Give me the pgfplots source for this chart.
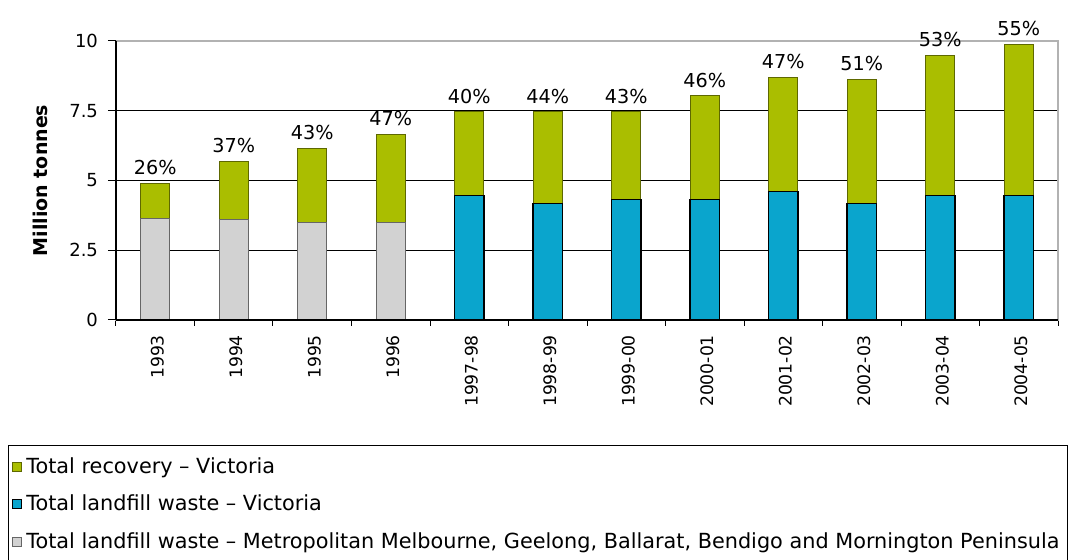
\documentclass[border=0pt]{standalone}
\usepackage{fontspec}
\setmainfont{DejaVu Sans}
\usepackage{pgfplots}
\pgfplotsset{compat=1.18}
\definecolor{recgreen}{RGB}{170,190,0}
\definecolor{lfblue}{RGB}{10,165,205}
\definecolor{lfgray}{RGB}{210,210,210}
\pgfplotsset{sqlegend/.style={legend image code/.code={\draw[##1,line width=0.5pt] (0pt,-2.3pt) rectangle (4.6pt,2.3pt);}}}
\begin{document}
\begin{tikzpicture}
\begin{axis}[
  scale only axis, width=471pt, height=139.5pt,
  ybar, clip=false,
  xmin=-0.5, xmax=11.5, ymin=0, ymax=10,
  ytick={0,2.5,5,7.5}, yticklabels={0,2.5,5,7.5},
  extra y ticks={10}, extra y tick labels={10}, extra y tick style={grid=none},
  ymajorgrids, grid style={black, line width=0.5pt},
  xtick={0,...,11},
  xticklabels={1993,1994,1995,1996,1997-98,1998-99,1999-00,2000-01,2001-02,2002-03,2003-04,2004-05},
  major x tick style={draw=none},
  minor xtick={-0.5,0.5,...,11.5},
  tick pos=left,
  tick align=outside, major tick length=4pt, minor tick length=3pt,
  tick style={black, line width=0.5pt},
  axis line style={gray!60, line width=0.6pt},
  x tick label style={rotate=90, anchor=east, font=\fontsize{8.6}{10}\selectfont, yshift=-1pt},
  y tick label style={font=\fontsize{9}{10}\selectfont, xshift=-1.5pt},
  /pgf/number format/assume math mode=true,
  ylabel={Million tonnes},
  every axis y label/.style={at={(axis description cs:-0.0807,0.5)}, rotate=90, anchor=center, font=\bfseries\fontsize{9.5}{11}\selectfont},
  legend style={at={(1.0106,-0.448)}, anchor=north east, draw=black, line width=0.6pt,
    font=\fontsize{10.4}{12}\selectfont, row sep=5.3pt, inner xsep=2pt, inner ysep=4pt},
  legend cell align=left,
]
\addplot[bar shift=0pt, bar width=14.7pt, fill=recgreen, draw=recgreen!55!black, line width=0.5pt, sqlegend,
  point meta=explicit symbolic, nodes near coords,
  every node near coord/.append style={font=\fontsize{9.6}{12}\selectfont, black, inner sep=2pt, yshift=2pt}]
  coordinates {(0,4.91)[26\%] (1,5.69)[37\%] (2,6.14)[43\%] (3,6.64)[47\%] (4,7.46)[40\%] (5,7.46)[44\%]
   (6,7.46)[43\%] (7,8.03)[46\%] (8,8.69)[47\%] (9,8.62)[51\%] (10,9.49)[53\%] (11,9.87)[55\%]};
\addlegendentry{Total recovery – Victoria}
\addplot[bar shift=0pt, bar width=14.7pt, fill=lfblue, draw=black, line width=0.6pt, sqlegend]
  coordinates {(4,4.47) (5,4.17) (6,4.32) (7,4.32) (8,4.61) (9,4.17) (10,4.47) (11,4.47)};
\addlegendentry{Total landfill waste – Victoria}
\addplot[bar shift=0pt, bar width=14.7pt, fill=lfgray, draw=black!60, line width=0.5pt, sqlegend]
  coordinates {(0,3.63) (1,3.60) (2,3.51) (3,3.51)};
\addlegendentry{Total landfill waste – Metropolitan Melbourne, Geelong, Ballarat, Bendigo and Mornington Peninsula}
\draw[black, line width=0.6pt] (axis description cs:0,0) -- (axis description cs:0,1);
\draw[black, line width=0.6pt] (axis description cs:0,0) -- (axis description cs:1,0);
\end{axis}
\pgfresetboundingbox
\path[use as bounding box] (-58pt,-120pt) rectangle (477pt,160pt);
\end{tikzpicture}
\end{document}
